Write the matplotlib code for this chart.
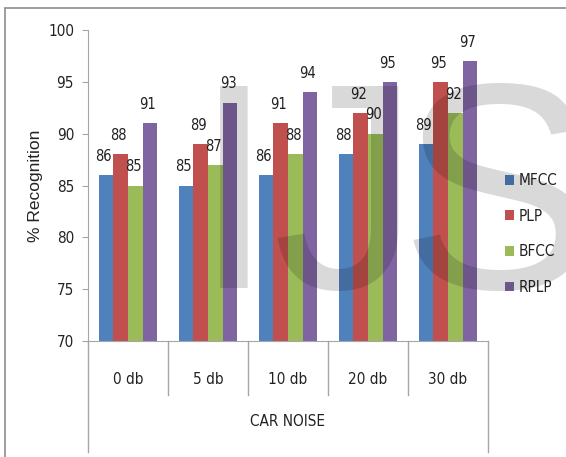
import matplotlib
matplotlib.use("Agg")
import matplotlib.pyplot as plt
import matplotlib.transforms as mtransforms
from matplotlib.patches import Rectangle
from matplotlib import font_manager
import numpy as np

categories = ["0 db", "5 db", "10 db", "20 db", "30 db"]
series_names = ["MFCC", "PLP", "BFCC", "RPLP"]
mfcc = [86, 85, 86, 88, 89]
plp = [88, 89, 91, 92, 95]
bfcc = [85, 87, 88, 90, 92]
rplp = [91, 93, 94, 95, 97]
series_values = [mfcc, plp, bfcc, rplp]
colors = ["#4F81BD", "#C0504D", "#9BBB59", "#8064A2"]
yticks = [70, 75, 80, 85, 90, 95, 100]
group_title = "CAR NOISE"
watermark = ["I", "J", "S"]

cond = any("Condensed" in f.fname and "DejaVuSans" in f.fname for f in font_manager.fontManager.ttflist)
narrow_fp = dict(family="DejaVu Sans", stretch="condensed") if cond else dict(family="DejaVu Sans")
nsize = 10.5 if cond else 9.5

W, H = 566, 457
fig = plt.figure(figsize=(W / 100, H / 100), dpi=100)

fig.patches.append(Rectangle((5 / W, -0.02), 1.1, 1 - 8 / H + 0.02, transform=fig.transFigure,
                             fill=False, edgecolor="#8C8C8C", linewidth=1.2, zorder=0))

ax = fig.add_axes([88 / W, 1 - 341 / H, 400 / W, 311 / H])
x = np.arange(len(categories))
bw = 0.184
offsets = (np.arange(4) - 1.5) * bw
for i, (name, vals, c) in enumerate(zip(series_names, series_values, colors)):
    ax.bar(x + offsets[i], np.array(vals) - 70, bw, bottom=70, color=c, label=name, zorder=2)
    for xi, v in zip(x + offsets[i], vals):
        ax.annotate(str(v), (xi, v), xytext=(-1.5, 13.5), textcoords="offset points",
                    ha="center", va="center", fontsize=nsize, color="#222222", **narrow_fp)

ax.set_xlim(-0.5, len(categories) - 0.5)
ax.set_ylim(70, 100)
ax.set_yticks(yticks)
ax.set_yticklabels([str(t) for t in yticks], fontsize=nsize + 0.5, **narrow_fp)
ax.set_xticks([])
for s in ["top", "right"]:
    ax.spines[s].set_visible(False)
ax.spines["left"].set_color("#A6A6A6")
ax.spines["bottom"].set_color("#A6A6A6")
ax.tick_params(axis="y", length=4, color="#A6A6A6", pad=6, colors="#222222")
ax.set_ylabel("% Recognition", fontsize=12.5, family="Liberation Sans", labelpad=4, color="#222222")

trans = mtransforms.blended_transform_factory(ax.transData, ax.transAxes)
for k in range(len(categories) + 1):
    xb = k - 0.5
    ybot = -111 / 311 if k in (0, len(categories)) else -54 / 311
    ax.plot([xb, xb], [0, ybot], transform=trans, color="#A6A6A6", lw=1, clip_on=False)
for xi, c in zip(x, categories):
    ax.text(xi, -39 / 311, c, transform=trans, ha="center", va="center", fontsize=nsize + 0.5,
            color="#222222", **narrow_fp)
ax.text((len(categories) - 1) / 2, -80 / 311, group_title, transform=trans, ha="center",
        va="center", fontsize=nsize + 0.5, color="#222222", **narrow_fp)

leg = fig.legend(loc="center left", bbox_to_anchor=(505 / W, 1 - 234 / H), frameon=False,
                 prop=dict(size=nsize + 0.5, **narrow_fp), handlelength=0.6, handleheight=0.6,
                 handletextpad=0.3, labelspacing=1.35, borderaxespad=0, borderpad=0)
for t in leg.get_texts():
    t.set_color("#222222")

wm_x = [193, 272, 400]
for ch, xx in zip(watermark, wm_x):
    fig.text(xx / W, 1 - 288 / H, ch, fontsize=212, family="Liberation Sans", color="black",
             alpha=0.15, ha="left", va="baseline", zorder=10)

fig.savefig("out.png", dpi=100)
